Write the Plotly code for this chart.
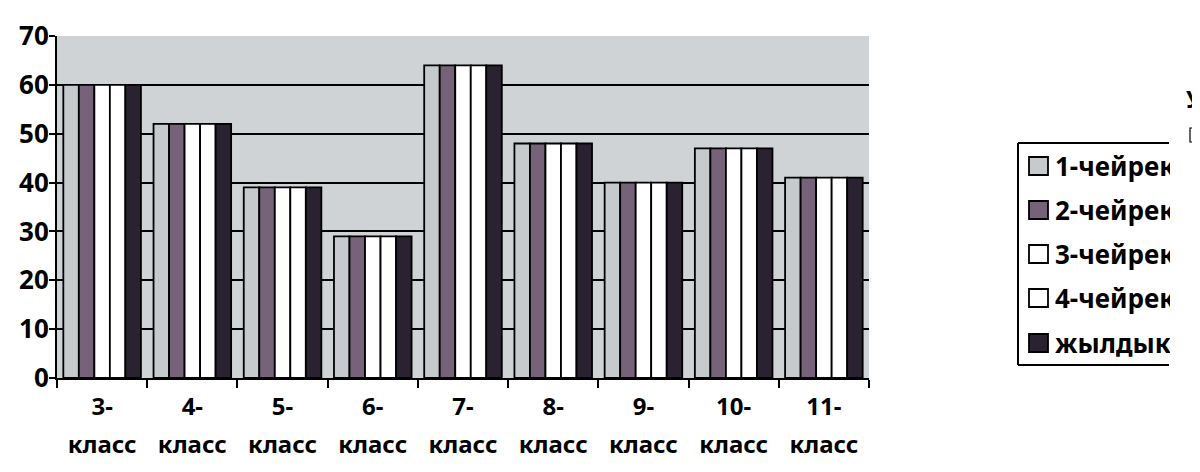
import plotly.graph_objects as go

categories = ["3-класс", "4-класс", "5-класс", "6-класс", "7-класс",
              "8-класс", "9-класс", "10-класс", "11-класс"]
tick_lines = [["3-", "класс"], ["4-", "класс"], ["5-", "класс"], ["6-", "класс"], ["7-", "класс"],
              ["8-", "класс"], ["9-", "класс"], ["10-", "класс"], ["11-", "класс"]]
series_names = ["1-чейрек", "2-чейрек", "3-чейрек", "4-чейрек", "жылдык"]
q1 = [60, 52, 39, 29, 64, 48, 40, 47, 41]
q2 = [60, 52, 39, 29, 64, 48, 40, 47, 41]
q3 = [60, 52, 39, 29, 64, 48, 40, 47, 41]
q4 = [60, 52, 39, 29, 64, 48, 40, 47, 41]
year = [60, 52, 39, 29, 64, 48, 40, 47, 41]
series_values = [q1, q2, q3, q4, year]
colors = ["#c6cacd", "#76637a", "#ffffff", "#ffffff", "#2a2230"]
y_ticks = [0, 10, 20, 30, 40, 50, 60, 70]

FONT = "Noto Sans"
OFF = 8                      # page body margin of the browser
W, H = 1200 - OFF, 472 - OFF
L, T = 57 - OFF, 36 - OFF
PR, PB = 869 - OFF, 378 - OFF
R, B = W - PR, H - PB
PW, PH = PR - L, PB - T


def px(x):
    """window pixel x -> paper coordinate"""
    return (x - OFF - L) / PW


def py(y):
    """window pixel y -> paper coordinate"""
    return (PB - (y - OFF)) / PH


tick_text = ["<br>".join("<span style='font-size:24px'>%s</span>" % s for s in lines)
             for lines in tick_lines]

fig = go.Figure()
for name, vals, col in zip(series_names, series_values, colors):
    fig.add_trace(go.Bar(
        x=categories, y=vals, name=name,
        marker=dict(color=col, line=dict(color="#000000", width=1.8)),
    ))

fig.update_layout(
    width=W, height=H,
    margin=dict(l=L, r=R, t=T, b=B),
    paper_bgcolor="#ffffff",
    plot_bgcolor="#cfd3d5",
    barmode="group",
    bargap=0.14,
    bargroupgap=0.0,
    font=dict(family=FONT, size=18, color="#000000", weight=700),
    showlegend=False,
    xaxis=dict(
        showline=True, linecolor="#000000", linewidth=2,
        ticks="outside", ticklen=8, tickcolor="#000000", tickwidth=2,
        tickson="boundaries", automargin=False,
        tickmode="array", tickvals=categories, ticktext=tick_text,
        tickfont=dict(family=FONT, size=29, weight=700),
        ticklabelstandoff=0,
        showgrid=False,
    ),
    yaxis=dict(
        range=[0, 70], tickvals=y_ticks, automargin=False,
        showline=True, linecolor="#000000", linewidth=2,
        ticks="outside", ticklen=6, tickcolor="#000000", tickwidth=2,
        tickfont=dict(family=FONT, size=26, weight=700),
        ticklabelstandoff=-5,
        showgrid=True, gridcolor="#000000", gridwidth=1.5,
        zeroline=False,
    ),
)

# manual legend (the reference's legend box is cut off on its right side)
lx0, lx1, ly0, ly1 = 1018, 1169, 143, 365
shapes = [
    dict(type="line", xref="paper", yref="paper", x0=px(lx0), x1=px(lx1), y0=py(ly0), y1=py(ly0),
         line=dict(color="#000000", width=2)),
    dict(type="line", xref="paper", yref="paper", x0=px(lx0), x1=px(lx1), y0=py(ly1), y1=py(ly1),
         line=dict(color="#000000", width=2)),
    dict(type="line", xref="paper", yref="paper", x0=px(lx0), x1=px(lx0), y0=py(ly0), y1=py(ly1),
         line=dict(color="#000000", width=2)),
]
item_y = [166, 210, 254, 298, 343]
for name, col, yc in zip(series_names, colors, item_y):
    shapes.append(dict(type="rect", xref="paper", yref="paper",
                       x0=px(1029), x1=px(1048), y0=py(yc - 9), y1=py(yc + 9),
                       fillcolor=col, line=dict(color="#000000", width=1.8)))
    fig.add_annotation(xref="paper", yref="paper", x=px(1054), y=py(yc),
                       xanchor="left", yanchor="middle", text=name, showarrow=False,
                       width=lx1 - 1054, align="left", borderpad=0,
                       font=dict(family=FONT, size=26, color="#000000", weight=700))

# fragment of a neighbouring element at the right edge
shapes.append(dict(type="rect", xref="paper", yref="paper",
                   x0=px(1190), x1=px(1198), y0=py(128), y1=py(142),
                   fillcolor="#ffffff", line=dict(color="#000000", width=1.2)))
fig.add_annotation(
    xref="paper", yref="paper", x=px(1184), y=py(98),
    xanchor="left", yanchor="middle", text="У", showarrow=False,
    font=dict(family=FONT, size=24, color="#000000", weight=700),
)
fig.update_layout(shapes=shapes)

fig.write_html("out.html")
